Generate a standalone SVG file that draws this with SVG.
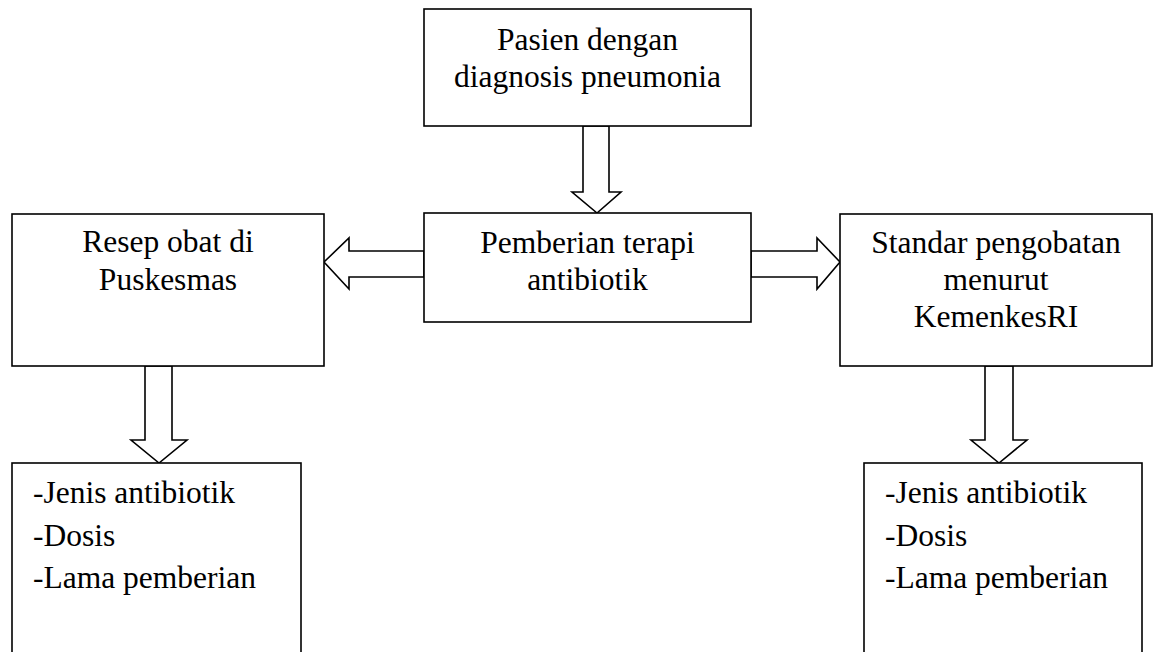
<svg xmlns="http://www.w3.org/2000/svg" width="1154" height="652" viewBox="0 0 1154 652">
<style>
.box{fill:#fff;stroke:#000;stroke-width:1.6}
.arr{fill:#fff;stroke:#000;stroke-width:1.6;stroke-linejoin:miter}
text{font-family:"Liberation Serif","Times New Roman",serif;font-size:31.5px;fill:#000}
.c{text-anchor:middle}
</style>
<rect width="1154" height="652" fill="#fff"/>
<g id="connectors">
<polygon class="arr" points="583,126 609,126 609,192 621,192 597,213 572,192 583,192"/>
<polygon class="arr" points="424,251 349,251 349,238 324,262 349,289 349,277 424,277"/>
<polygon class="arr" points="751,251 817,251 817,238 840,262 817,289 817,277 751,277"/>
<polygon class="arr" points="145,366 172,366 172,440 187,440 159,463 131,440 145,440"/>
<polygon class="arr" points="985,366 1013,366 1013,440 1027,440 999,463 971,440 985,440"/>
</g>
<g id="pasien">
<rect class="box" x="424" y="9" width="327" height="117"/>
<text class="c" x="587.5" y="50">Pasien dengan</text>
<text class="c" x="587.5" y="87">diagnosis pneumonia</text>
</g>
<g id="terapi">
<rect class="box" x="424" y="213" width="327" height="109"/>
<text class="c" x="587.5" y="253">Pemberian terapi</text>
<text class="c" x="587.5" y="290">antibiotik</text>
</g>
<g id="resep">
<rect class="box" x="12" y="214" width="312" height="152"/>
<text class="c" x="168" y="252">Resep obat di</text>
<text class="c" x="168" y="290">Puskesmas</text>
</g>
<g id="standar">
<rect class="box" x="840" y="214" width="312" height="152"/>
<text class="c" x="996" y="253">Standar pengobatan</text>
<text class="c" x="996" y="290">menurut</text>
<text class="c" x="996" y="327">KemenkesRI</text>
</g>
<g id="hasil-kiri">
<rect class="box" x="12" y="463" width="289" height="200"/>
<text x="33" y="503">-Jenis antibiotik</text>
<text x="33" y="546">-Dosis</text>
<text x="33" y="588">-Lama pemberian</text>
</g>
<g id="hasil-kanan">
<rect class="box" x="864" y="463" width="278" height="200"/>
<text x="885" y="503">-Jenis antibiotik</text>
<text x="885" y="546">-Dosis</text>
<text x="885" y="588">-Lama pemberian</text>
</g>
</svg>
